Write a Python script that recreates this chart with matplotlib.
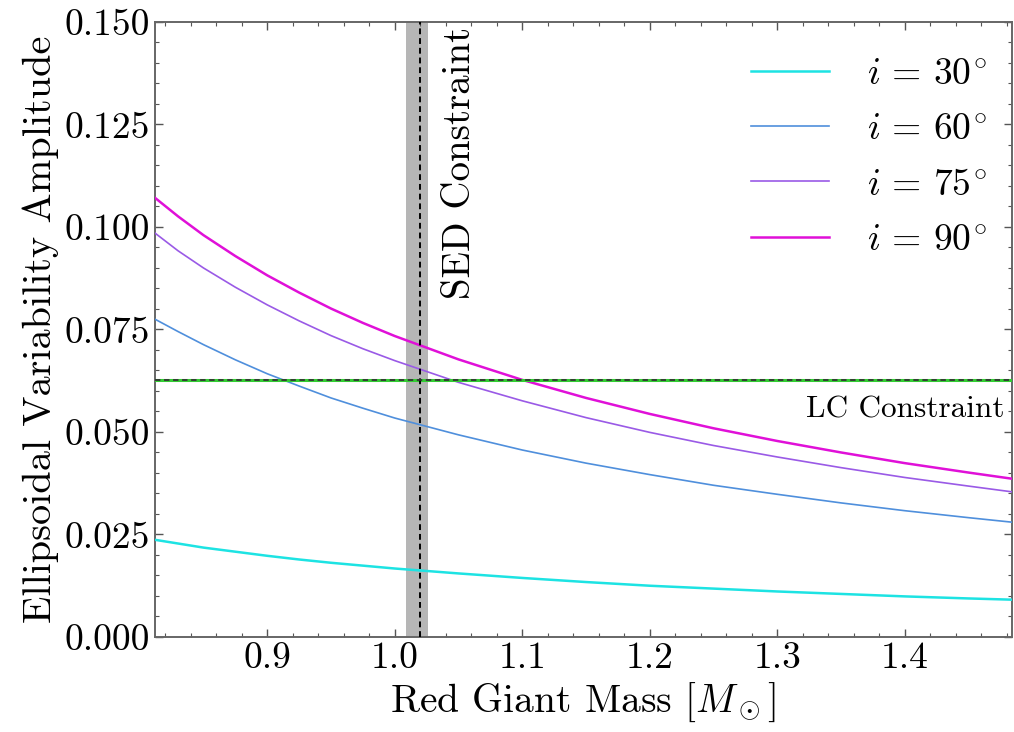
import numpy as np
import matplotlib
matplotlib.use("Agg")
import matplotlib.pyplot as plt
from matplotlib.ticker import MultipleLocator, FormatStrFormatter

plt.rcParams["font.family"] = "serif"
plt.rcParams["font.serif"] = ["cmr10", "DejaVu Serif"]
plt.rcParams["mathtext.fontset"] = "cm"
plt.rcParams["axes.formatter.use_mathtext"] = True

# Red giant mass grid [M_sun]
mass = [0.812, 0.83, 0.85, 0.875, 0.90, 0.925, 0.95, 0.975, 1.00, 1.05,
        1.10, 1.15, 1.20, 1.25, 1.30, 1.35, 1.40, 1.45, 1.484]

# Ellipsoidal variability amplitude for each inclination
amp_i30 = [0.0237, 0.0228, 0.0218, 0.0208, 0.0198, 0.0189, 0.0181, 0.0174,
           0.0167, 0.0155, 0.0144, 0.0134, 0.0125, 0.0118, 0.0111, 0.0105,
           0.0099, 0.0094, 0.0091]
amp_i60 = [0.0775, 0.0745, 0.0713, 0.0676, 0.0642, 0.0612, 0.0583, 0.0558,
           0.0534, 0.0493, 0.0456, 0.0424, 0.0396, 0.0370, 0.0348, 0.0327,
           0.0308, 0.0291, 0.0280]
amp_i75 = [0.0985, 0.0942, 0.0900, 0.0853, 0.0810, 0.0771, 0.0735, 0.0703,
           0.0674, 0.0621, 0.0576, 0.0535, 0.0499, 0.0467, 0.0439, 0.0413,
           0.0389, 0.0368, 0.0354]
amp_i90 = [0.1071, 0.1026, 0.0980, 0.0929, 0.0882, 0.0840, 0.0801, 0.0766,
           0.0734, 0.0677, 0.0627, 0.0583, 0.0544, 0.0509, 0.0478, 0.0450,
           0.0424, 0.0401, 0.0386]

series_labels = [r"$i\,=\,30^{\!\circ}$", r"$i\,=\,60^{\!\circ}$",
                 r"$i\,=\,75^{\!\circ}$", r"$i\,=\,90^{\!\circ}$"]

# Constraints
sed_mass = 1.020
sed_band = (1.009, 1.026)
lc_amp = 0.0627

fig = plt.figure(figsize=(10.14, 7.32), dpi=100)
ax = fig.add_axes([0.1529, 0.1298, 0.8451, 0.8402])

FS = 27

ax.axvspan(sed_band[0], sed_band[1], color="#a9a9a9", alpha=0.85, lw=0, zorder=1)
ax.axvline(sed_mass, color="black", ls=(0, (3, 2)), lw=1.4, zorder=5)
ax.axhline(lc_amp, color="#33cc33", lw=2.2, zorder=4)
ax.axhline(lc_amp, color="#333333", ls=(0, (3, 2)), lw=1.3, zorder=5)

ax.plot(mass, amp_i30, color="#1de3e3", lw=1.8, label=series_labels[0], zorder=3)
ax.plot(mass, amp_i60, color="#4f8fdc", lw=1.2, label=series_labels[1], zorder=3)
ax.plot(mass, amp_i75, color="#9a5ae6", lw=1.2, label=series_labels[2], zorder=3)
ax.plot(mass, amp_i90, color="#e010d8", lw=1.8, label=series_labels[3], zorder=3)

ax.text(1.051, 0.1487, "SED Constraint", rotation=90, ha="center", va="top",
        fontsize=28)
ax.text(1.478, 0.0555, "LC Constraint", ha="right", va="center", fontsize=22.5)

ax.set_xlim(0.812, 1.484)
ax.set_ylim(0.0, 0.150)
ax.xaxis.set_major_locator(MultipleLocator(0.1))
ax.xaxis.set_minor_locator(MultipleLocator(0.02))
ax.yaxis.set_major_locator(MultipleLocator(0.025))
ax.yaxis.set_minor_locator(MultipleLocator(0.005))
ax.yaxis.set_major_formatter(FormatStrFormatter("%.3f"))
ax.xaxis.set_major_formatter(FormatStrFormatter("%.1f"))

ax.tick_params(which="both", direction="in", top=True, right=True,
               color="#555555", labelsize=FS)
ax.tick_params(which="major", length=6, width=1.0)
ax.tick_params(which="minor", length=3, width=0.8)
for s in ax.spines.values():
    s.set_color("#666666")
    s.set_linewidth(1.4)

ax.set_xlabel(r"Red Giant Mass [$M_\odot$]", fontsize=28.5, labelpad=4)
ax.set_ylabel("Ellipsoidal Variability Amplitude", fontsize=29, labelpad=4)

leg = ax.legend(loc="upper right", bbox_to_anchor=(1.012, 1.0), frameon=False,
                fontsize=FS, handlelength=2.1, handletextpad=1.0,
                labelspacing=0.59, borderaxespad=0.55)

fig.savefig("out.png", dpi=100)
